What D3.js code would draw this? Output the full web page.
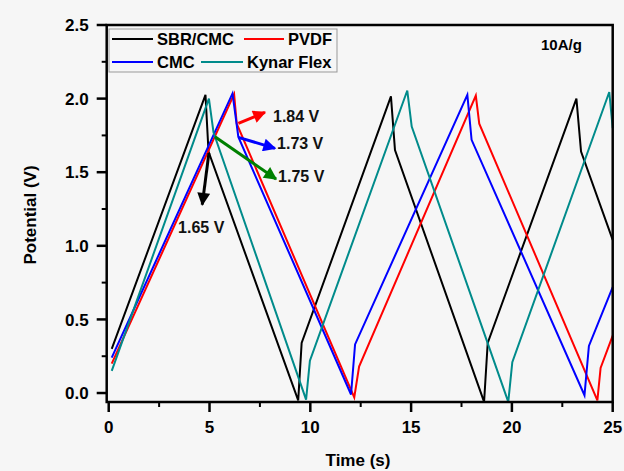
<!DOCTYPE html>
<html>
<head>
<meta charset="utf-8">
<script src="https://cdn.jsdelivr.net/npm/d3@7"></script>
<style>
  html, body { margin: 0; padding: 0; background: #f6f6f6; }
  svg { display: block; font-family: Arial, "Liberation Sans", sans-serif; }
</style>
</head>
<body>
<svg id="chart" width="624" height="471"></svg>
<script>
// time (s) / potential (V) corner points
var sbrT = [0.15, 4.8, 4.95, 9.40, 9.57, 14.0, 14.2, 18.62, 18.8, 23.2, 23.43, 25];
var sbrV = [0.30, 2.025, 1.64, -0.05, 0.34, 2.015, 1.65, -0.06, 0.34, 2.0, 1.64, 1.04];

var pvdfT = [0.15, 6.22, 6.35, 12.18, 12.42, 18.21, 18.38, 24.24, 24.4, 25];
var pvdfV = [0.20, 2.03, 1.83, -0.03, 0.18, 2.02, 1.83, -0.05, 0.17, 0.39];

var cmcT = [0.15, 6.14, 6.43, 12.02, 12.22, 17.79, 18.0, 23.6, 23.82, 25];
var cmcV = [0.24, 2.035, 1.74, -0.01, 0.33, 2.025, 1.72, -0.015, 0.32, 0.72];

var kynarT = [0.15, 4.97, 5.2, 9.79, 9.98, 14.81, 15.03, 19.82, 20.02, 24.83, 25];
var kynarV = [0.15, 2.0, 1.77, -0.045, 0.22, 2.055, 1.81, -0.06, 0.21, 2.045, 1.8];

var seriesNames = ["SBR/CMC", "PVDF", "CMC", "Kynar Flex"];
var seriesColors = ["#000000", "#ff0000", "#0000ff", "#008b8b"];

var xTicks = [0, 5, 10, 15, 20, 25];
var yTicks = [0.0, 0.5, 1.0, 1.5, 2.0, 2.5];

// annotation arrows: start / tip in data units, label
var arrowColors = ["#000000", "#ff0000", "#0000ff", "#008000"];
var arrowFrom = [[4.97, 1.63], [6.43, 1.832], [6.43, 1.737], [5.27, 1.741]];
var arrowTo = [[4.64, 1.28], [7.75, 1.907], [8.25, 1.662], [8.3, 1.454]];
var arrowLabels = ["1.65 V", "1.84 V", "1.73 V", "1.75 V"];
var labelAt = [[3.44, 1.128], [8.15, 1.882], [8.35, 1.698], [8.4, 1.474]];

var rateLabel = "10A/g";

var svg = d3.select("#chart");

var x = d3.scaleLinear().domain([-0.1, 25]).range([106.7, 612.7]);
var y = d3.scaleLinear().domain([-0.061, 2.5]).range([402, 25]);

function zip(ts, vs){
  return ts.map(function(t, i){ return { t: t, v: vs[i] }; });
}

var series = [zip(sbrT, sbrV), zip(pvdfT, pvdfV), zip(cmcT, cmcV), zip(kynarT, kynarV)];

var line = d3.line()
  .x(function(d){ return x(d.t); })
  .y(function(d){ return y(d.v); });

svg.append("defs").selectAll("marker")
  .data(arrowColors)
  .enter().append("marker")
    .attr("id", function(d, i){ return "head" + i; })
    .attr("viewBox", "0 0 10 10")
    .attr("refX", 9)
    .attr("refY", 5)
    .attr("markerUnits", "userSpaceOnUse")
    .attr("markerWidth", 16)
    .attr("markerHeight", 13)
    .attr("orient", "auto")
  .append("path")
    .attr("d", "M0,0 L10,5 L0,10 Z")
    .attr("fill", function(d){ return d; });

var plot = svg.append("g");

plot.selectAll(".series")
  .data(series)
  .enter().append("path")
    .attr("class", "series")
    .attr("fill", "none")
    .attr("stroke", function(d, i){ return seriesColors[i]; })
    .attr("stroke-width", 2)
    .attr("stroke-linejoin", "miter")
    .attr("d", line);

// arrows
plot.selectAll(".arrow")
  .data(arrowFrom)
  .enter().append("line")
    .attr("class", "arrow")
    .attr("x1", function(d){ return x(d[0]); })
    .attr("y1", function(d){ return y(d[1]); })
    .attr("x2", function(d, i){ return x(arrowTo[i][0]); })
    .attr("y2", function(d, i){ return y(arrowTo[i][1]); })
    .attr("stroke", function(d, i){ return arrowColors[i]; })
    .attr("stroke-width", 3)
    .attr("marker-end", function(d, i){ return "url(#head" + i + ")"; });

plot.selectAll(".alabel")
  .data(arrowLabels)
  .enter().append("text")
    .attr("class", "alabel")
    .attr("x", function(d, i){ return x(labelAt[i][0]); })
    .attr("y", function(d, i){ return y(labelAt[i][1]); })
    .attr("dy", "0.36em")
    .attr("font-size", "16px")
    .attr("font-weight", "bold")
    .attr("fill", "#111")
    .text(function(d){ return d; });

// frame
svg.append("rect")
  .attr("x", x.range()[0])
  .attr("y", y.range()[1])
  .attr("width", x.range()[1] - x.range()[0])
  .attr("height", y.range()[0] - y.range()[1])
  .attr("fill", "none")
  .attr("stroke", "#000")
  .attr("stroke-width", 2.5);

// x axis
var xAxis = svg.append("g")
  .attr("transform", "translate(0," + y.range()[0] + ")");
xAxis.selectAll(".minor")
  .data(d3.range(2.5, 25, 5))
  .enter().append("line")
    .attr("x1", function(d){ return x(d); })
    .attr("x2", function(d){ return x(d); })
    .attr("y1", 0).attr("y2", 5)
    .attr("stroke", "#000").attr("stroke-width", 2);
xAxis.selectAll(".major")
  .data(xTicks)
  .enter().append("line")
    .attr("x1", function(d){ return x(d); })
    .attr("x2", function(d){ return x(d); })
    .attr("y1", 0).attr("y2", 10)
    .attr("stroke", "#000").attr("stroke-width", 2.5);
xAxis.selectAll("text")
  .data(xTicks)
  .enter().append("text")
    .attr("x", function(d){ return x(d); })
    .attr("y", 31)
    .attr("text-anchor", "middle")
    .attr("font-size", "17px")
    .attr("font-weight", "bold")
    .text(function(d){ return d; });

// y axis
var yAxis = svg.append("g")
  .attr("transform", "translate(" + x.range()[0] + ",0)");
yAxis.selectAll(".minor")
  .data(d3.range(0.25, 2.5, 0.5))
  .enter().append("line")
    .attr("y1", function(d){ return y(d); })
    .attr("y2", function(d){ return y(d); })
    .attr("x1", 0).attr("x2", -5)
    .attr("stroke", "#000").attr("stroke-width", 2);
yAxis.selectAll(".major")
  .data(yTicks)
  .enter().append("line")
    .attr("y1", function(d){ return y(d); })
    .attr("y2", function(d){ return y(d); })
    .attr("x1", 0).attr("x2", -10)
    .attr("stroke", "#000").attr("stroke-width", 2.5);
yAxis.selectAll("text")
  .data(yTicks)
  .enter().append("text")
    .attr("x", -18)
    .attr("y", function(d){ return y(d); })
    .attr("dy", "0.36em")
    .attr("text-anchor", "end")
    .attr("font-size", "17px")
    .attr("font-weight", "bold")
    .text(function(d){ return d3.format(".1f")(d); });

svg.append("text")
  .attr("x", 358)
  .attr("y", 466)
  .attr("text-anchor", "middle")
  .attr("font-size", "17px")
  .attr("font-weight", "bold")
  .text("Time (s)");

svg.append("text")
  .attr("transform", "translate(36,215) rotate(-90)")
  .attr("text-anchor", "middle")
  .attr("font-size", "17px")
  .attr("font-weight", "bold")
  .text("Potential (V)");

svg.append("text")
  .attr("x", 541)
  .attr("y", 50)
  .attr("font-size", "15px")
  .attr("font-weight", "bold")
  .text(rateLabel);

// legend, two rows of two
var legend = svg.append("g");
legend.append("rect")
  .attr("x", 109).attr("y", 29)
  .attr("width", 228).attr("height", 43)
  .attr("fill", "none")
  .attr("stroke", "#999")
  .attr("stroke-width", 1);

var legendPos = [[112, 39], [244, 39], [112, 62], [201, 62]];
var legendLen = [41, 40, 41, 42];

var item = legend.selectAll(".item")
  .data(seriesNames)
  .enter().append("g")
    .attr("class", "item")
    .attr("transform", function(d, i){ return "translate(" + legendPos[i][0] + "," + legendPos[i][1] + ")"; });
item.append("line")
  .attr("x1", 0)
  .attr("x2", function(d, i){ return legendLen[i]; })
  .attr("stroke", function(d, i){ return seriesColors[i]; })
  .attr("stroke-width", 2);
item.append("text")
  .attr("x", function(d, i){ return legendLen[i] + 4; })
  .attr("dy", "0.36em")
  .attr("font-size", "16.5px")
  .attr("font-weight", "bold")
  .text(function(d){ return d; });
</script>
</body>
</html>
